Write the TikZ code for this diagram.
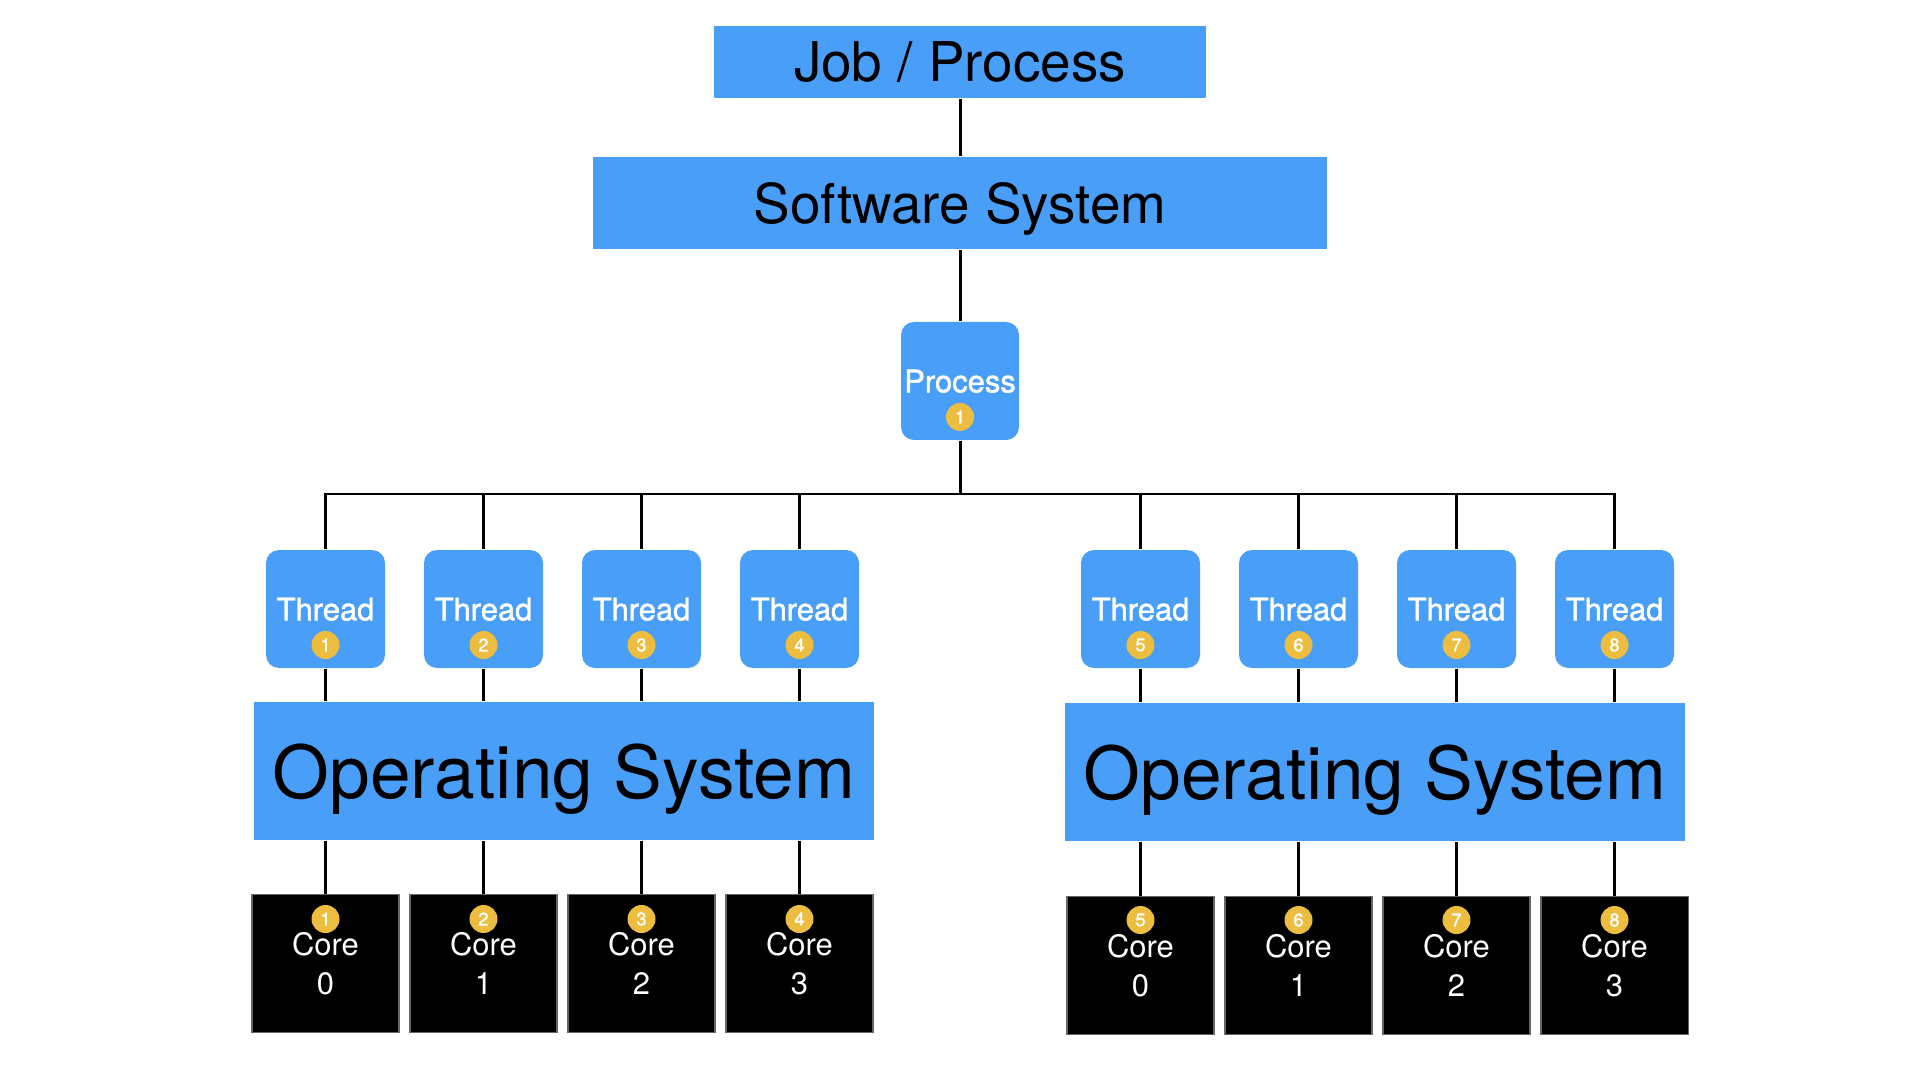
\documentclass[tikz,border=0pt]{standalone}
\usepackage{fontspec}
\setmainfont{TeX Gyre Heros}
\newfontfamily\mediumfont[FakeBold=1.5]{TeX Gyre Heros}
\definecolor{boxblue}{RGB}{73,159,247}
\definecolor{badgegold}{RGB}{237,189,64}

\begin{document}
\begin{tikzpicture}[
    link/.style={line width=0.85pt, black},
    layer/.style={rectangle, fill=boxblue, inner sep=0pt, text depth=0pt},
    unit/.style={rectangle, rounded corners=0.13cm, fill=boxblue, inner sep=0pt, text depth=0pt,
                 minimum width=1.19cm, minimum height=1.18cm, text=white,
                 font=\fontsize{8.8pt}{10pt}\mediumfont},
    core/.style={rectangle, fill=black, draw=black!60, line width=0.3pt, inner sep=0pt,
                 minimum width=1.47cm, minimum height=1.38cm, text=white, align=center,
                 font=\fontsize{8.8pt}{11.1pt}\selectfont},
    badge/.style={circle, fill=badgegold, inner sep=0pt, minimum size=0.28cm,
                  text=white, font=\fontsize{5.2pt}{6pt}\mediumfont}
]
    \useasboundingbox (0,0) rectangle (19.2,-10.8);

    % Top of the stack
    \node[layer, minimum width=4.92cm, minimum height=0.72cm, font=\fontsize{15.6pt}{18pt}\selectfont] (job) at (9.60,-0.62) {Job / Process};
    \node[layer, minimum width=7.34cm, minimum height=0.92cm, font=\fontsize{15.6pt}{18pt}\selectfont] (soft) at (9.60,-2.03) {Software System};
    \node[unit, minimum width=1.18cm] (proc) at (9.60,-3.81) {Process};
    \node[badge] (pb) at (9.60,-4.17) {1};
    \coordinate (bus) at (9.60,-4.94);

    % Threads
    \node[unit] (t1) at (3.255,-6.09) {Thread};
    \node[unit] (t2) at (4.835,-6.09) {Thread};
    \node[unit] (t3) at (6.415,-6.09) {Thread};
    \node[unit] (t4) at (7.995,-6.09) {Thread};
    \node[unit] (t5) at (11.405,-6.09) {Thread};
    \node[unit] (t6) at (12.985,-6.09) {Thread};
    \node[unit] (t7) at (14.565,-6.09) {Thread};
    \node[unit] (t8) at (16.145,-6.09) {Thread};
    \node[badge] (tb1) at (3.255,-6.45) {1};
    \node[badge] (tb2) at (4.835,-6.45) {2};
    \node[badge] (tb3) at (6.415,-6.45) {3};
    \node[badge] (tb4) at (7.995,-6.45) {4};
    \node[badge] (tb5) at (11.405,-6.45) {5};
    \node[badge] (tb6) at (12.985,-6.45) {6};
    \node[badge] (tb7) at (14.565,-6.45) {7};
    \node[badge] (tb8) at (16.145,-6.45) {8};

    % Operating systems
    \node[layer, minimum width=6.20cm, minimum height=1.38cm, font=\fontsize{20.8pt}{24pt}\selectfont] (osl) at (5.64,-7.71) {Operating System};
    \node[layer, minimum width=6.20cm, minimum height=1.38cm, font=\fontsize{20.8pt}{24pt}\selectfont] (osr) at (13.75,-7.72) {Operating System};

    % Cores
    \node[core] (c1) at (3.255,-9.635) {Core\\0};
    \node[core] (c2) at (4.835,-9.635) {Core\\1};
    \node[core] (c3) at (6.415,-9.635) {Core\\2};
    \node[core] (c4) at (7.995,-9.635) {Core\\3};
    \node[core] (c5) at (11.405,-9.655) {Core\\0};
    \node[core] (c6) at (12.985,-9.655) {Core\\1};
    \node[core] (c7) at (14.565,-9.655) {Core\\2};
    \node[core] (c8) at (16.145,-9.655) {Core\\3};
    \node[badge] (cb1) at (3.255,-9.19) {1};
    \node[badge] (cb2) at (4.835,-9.19) {2};
    \node[badge] (cb3) at (6.415,-9.19) {3};
    \node[badge] (cb4) at (7.995,-9.19) {4};
    \node[badge] (cb5) at (11.405,-9.20) {5};
    \node[badge] (cb6) at (12.985,-9.20) {6};
    \node[badge] (cb7) at (14.565,-9.20) {7};
    \node[badge] (cb8) at (16.145,-9.20) {8};

    % Connections
    \draw[link] (job) -- (soft);
    \draw[link] (soft) -- (proc);
    \draw[link] (proc) -- (bus);
    \draw[link] (bus) -| (t1.north);
    \draw[link] (bus) -| (t2.north);
    \draw[link] (bus) -| (t3.north);
    \draw[link] (bus) -| (t4.north);
    \draw[link] (bus) -| (t5.north);
    \draw[link] (bus) -| (t6.north);
    \draw[link] (bus) -| (t7.north);
    \draw[link] (bus) -| (t8.north);

    \draw[link] (t1.south) -- (t1.south |- osl.north);
    \draw[link] (t2.south) -- (t2.south |- osl.north);
    \draw[link] (t3.south) -- (t3.south |- osl.north);
    \draw[link] (t4.south) -- (t4.south |- osl.north);
    \draw[link] (t5.south) -- (t5.south |- osr.north);
    \draw[link] (t6.south) -- (t6.south |- osr.north);
    \draw[link] (t7.south) -- (t7.south |- osr.north);
    \draw[link] (t8.south) -- (t8.south |- osr.north);

    \draw[link] (c1.north |- osl.south) -- (c1.north);
    \draw[link] (c2.north |- osl.south) -- (c2.north);
    \draw[link] (c3.north |- osl.south) -- (c3.north);
    \draw[link] (c4.north |- osl.south) -- (c4.north);
    \draw[link] (c5.north |- osr.south) -- (c5.north);
    \draw[link] (c6.north |- osr.south) -- (c6.north);
    \draw[link] (c7.north |- osr.south) -- (c7.north);
    \draw[link] (c8.north |- osr.south) -- (c8.north);

\end{tikzpicture}
\end{document}
